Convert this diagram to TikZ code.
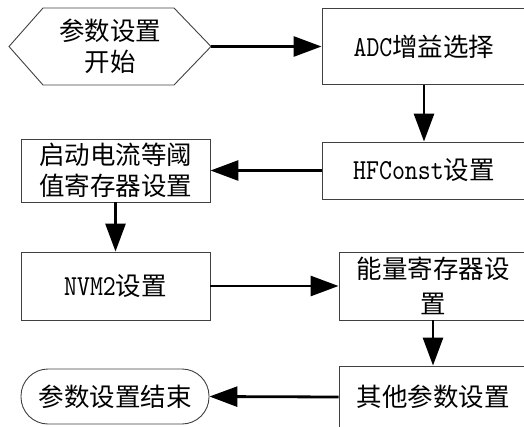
\documentclass[tikz,border=0pt]{standalone}
\usepackage{fontspec}
\newfontfamily\cjk{Noto Sans CJK SC}
\newfontfamily\lat[Extension=.otf, FakeStretch=0.85]{lmmono10-regular}
\usetikzlibrary{arrows.meta}
\newcommand\lt[1]{{\lat\fontsize{29}{31}\selectfont #1}}
\begin{document}
\begin{tikzpicture}[x=1pt,y=-1pt,
  txt/.style={inner sep=0pt, align=center, font=\cjk\fontsize{25.5}{31}\selectfont},
  box/.style={txt, draw=black!75, line width=0.9pt, rectangle},
  flow/.style={line width=2.8pt, -{Triangle[length=28pt,width=20pt]}},
  ]
\useasboundingbox (0,0) rectangle (524,426);
\clip (0,0) rectangle (524,426);
% start hexagon
\draw[draw=black!75, line width=0.9pt] (9,46.5) -- (43,8) -- (174,8) -- (211,46.5) -- (174,85) -- (43,85) -- cycle;
\node[txt] (start) at (110,46.5) {参数设置\\开始};
\coordinate (startE) at (211,46.5);
\node[box, minimum width=204pt, minimum height=76pt] (adc) at (424,46.5) {\lt{ADC}增益选择};
\node[box, minimum width=204pt, minimum height=57pt] (hf) at (424,170.5) {\lt{HFConst}设置};
\node[box, minimum width=189pt, minimum height=63pt] (qd) at (115.5,170.5) {启动电流等阈\\值寄存器设置};
\node[box, minimum width=189pt, minimum height=68pt] (nvm) at (115.5,286) {\lt{NVM2}设置};
\node[box, minimum width=188pt, minimum height=68pt, font=\cjk\fontsize{25.5}{35}\selectfont] (nl) at (433,286) {能量寄存器设\\置};
\node[box, minimum width=188pt, minimum height=62pt] (qt) at (433,397) {其他参数设置};
\node[box, minimum width=188pt, minimum height=55pt, rounded corners=27pt] (end) at (115,396.5) {参数设置结束};
\draw[flow] (startE) -- (adc.west);
\draw[flow] (adc.south) -- (hf.north);
\draw[flow] (hf.west) -- (qd.east);
\draw[flow] (qd.south) -- (nvm.north);
\draw[flow] (nvm.east) -- (nl.west);
\draw[flow] (nl.south) -- (qt.north);
\draw[flow] (qt.west) -- (end.east);
\end{tikzpicture}
\end{document}
